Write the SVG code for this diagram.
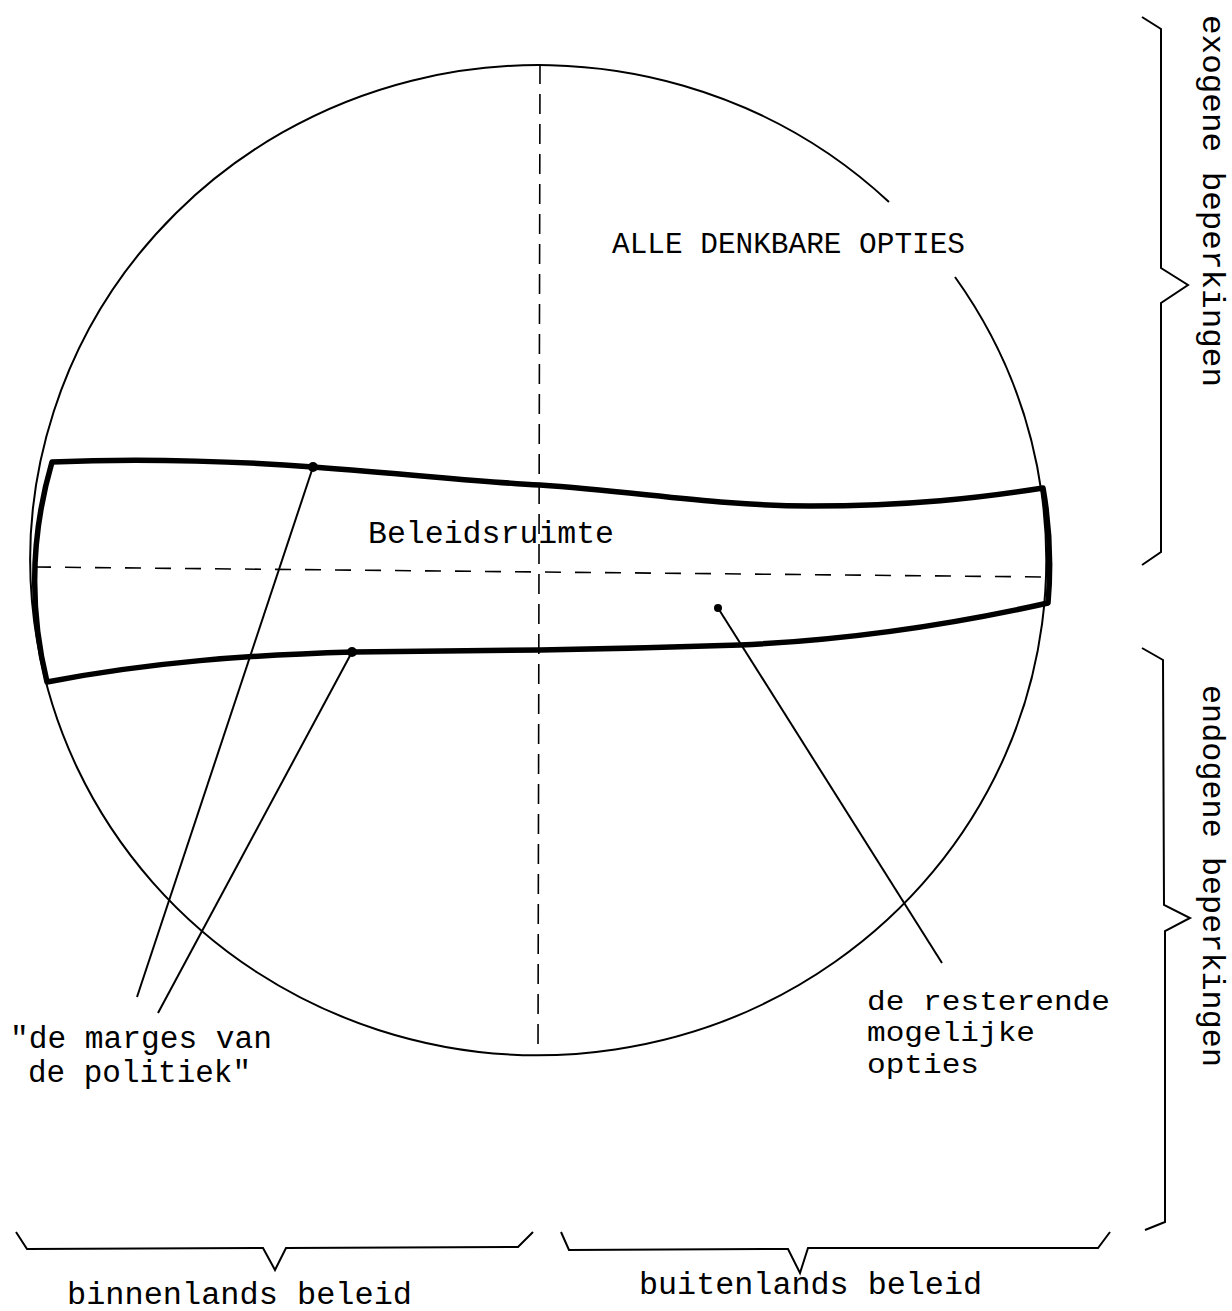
<svg xmlns="http://www.w3.org/2000/svg" width="1232" height="1311" viewBox="0 0 1232 1311">
<style>
.thin{fill:none;stroke:#000;stroke-width:2}
.band{fill:none;stroke:#000;stroke-width:5.5;stroke-linejoin:round}
.dashv{fill:none;stroke:#000;stroke-width:1.6;stroke-dasharray:20 10}
.dashh{fill:none;stroke:#000;stroke-width:1.6;stroke-dasharray:16 14}
.brace{fill:none;stroke:#000;stroke-width:2;stroke-linejoin:miter}
.lbl{font-family:"Liberation Mono","DejaVu Sans Mono",monospace;font-size:31px;fill:#000}
.sm{font-size:27px}
.dot{fill:#000}
</style>
<rect width="1232" height="1311" fill="#fff"/>
<g id="circle">
<path class="thin" d="M955,277 A508,495 0 1 1 889,202"/>
</g>
<g id="axes">
<path class="dashv" d="M540,64 L538,1054"/>
<path class="dashh" d="M35,567 L1048,577"/>
</g>
<g id="band">
<path class="band" d="M52,462 C150,458 250,462 313,467 C420,475 480,482 540,485 C640,492 720,506 810,506 C910,506 980,498 1043,488 Q1053,545 1048,603 C950,625 850,640 740,645 C650,648 600,649 540,650 C450,651 400,651 353,652 C250,655 150,662 47,682 Q20,572 52,462 Z"/>
</g>
<g id="connectors">
<path class="thin" d="M313,467 L137,997"/>
<path class="thin" d="M352,652 L158,1013"/>
<path class="thin" d="M718,608 L942,963"/>
<circle class="dot" cx="313" cy="467" r="5"/>
<circle class="dot" cx="352" cy="652" r="5"/>
<circle class="dot" cx="718" cy="608" r="4"/>
</g>
<g id="braces">
<path class="brace" d="M1142,17 L1161,29 L1161,268 L1188,285 L1161,303 L1161,552 L1142,565"/>
<path class="brace" d="M1142,648 L1163,660 L1164,905 L1190,918 L1165,931 L1165,1222 L1145,1230"/>
<path class="brace" d="M16,1232 L27,1249 L263,1248 L275,1270 L286,1248 L518,1247 L533,1232"/>
<path class="brace" d="M561,1232 L569,1250 L788,1249 L800,1273 L808,1248 L1098,1248 L1110,1232"/>
</g>
<g id="labels">
<text class="lbl" x="612" y="253" textLength="353" lengthAdjust="spacingAndGlyphs" style="font-size:30px">ALLE DENKBARE OPTIES</text>
<text class="lbl" x="368" y="543" textLength="246" lengthAdjust="spacingAndGlyphs">Beleidsruimte</text>
<text class="lbl sm" x="867" y="1010" textLength="243" lengthAdjust="spacingAndGlyphs">de resterende</text>
<text class="lbl sm" x="867" y="1041" textLength="168" lengthAdjust="spacingAndGlyphs">mogelijke</text>
<text class="lbl sm" x="867" y="1073" textLength="112" lengthAdjust="spacingAndGlyphs">opties</text>
<text class="lbl" x="10" y="1048" textLength="262" lengthAdjust="spacingAndGlyphs">"de marges van</text>
<text class="lbl" x="28" y="1082" textLength="223" lengthAdjust="spacingAndGlyphs">de politiek"</text>
<text class="lbl" x="67" y="1304" textLength="345" lengthAdjust="spacingAndGlyphs">binnenlands beleid</text>
<text class="lbl" x="639" y="1294" textLength="343" lengthAdjust="spacingAndGlyphs">buitenlands beleid</text>
<text class="lbl" transform="translate(1203,15) rotate(90)" textLength="372" lengthAdjust="spacingAndGlyphs">exogene beperkingen</text>
<text class="lbl" transform="translate(1203,685) rotate(90)" textLength="382" lengthAdjust="spacingAndGlyphs">endogene beperkingen</text>
</g>
</svg>
